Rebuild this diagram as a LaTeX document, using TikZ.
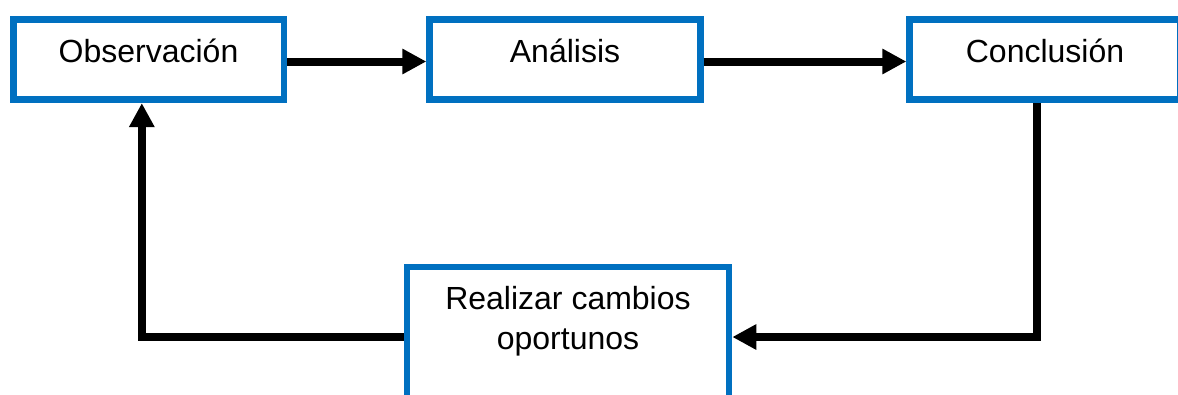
\documentclass[tikz,border=0pt]{standalone}
\usepackage{fontspec}
\setmainfont{Liberation Sans}
\usepackage{xcolor}
\usetikzlibrary{arrows.meta}
\definecolor{boxblue}{RGB}{0,112,192}

\begin{document}
\begin{tikzpicture}[x=0.75pt, y=-0.75pt,
    box/.style={draw=boxblue, line width=5pt, rectangle, inner sep=0pt,
        minimum width=203pt, minimum height=60.4pt,
        font=\fontsize{24}{30}\selectfont, text height=18pt, text depth=13.5pt},
    flow/.style={line width=6pt, -{Triangle[length=18pt, width=18pt]}}]
            \clip (0,0) rectangle (1178,394);

            \node[box] (obs) at (148.5, 59.5) {Observación};
            \node[box] (ana) at (565, 59.5) {Análisis};
            \node[box] (con) at (1045, 59.5) {Conclusión};
            \node[box, align=center, minimum width=241.5pt, minimum height=105pt,
                text height={}, text depth=28pt] (rea) at (568, 337) {Realizar cambios\\oportunos};

            \draw[flow] ([yshift=-1.5]obs.east) -- ([yshift=-1.5]ana.west);
            \draw[flow] ([yshift=-1.5]ana.east) -- ([yshift=-1.5]con.west);

            \draw[flow] ([xshift=-6]con.south) |- (rea.east);
            \draw[flow] (rea.west) -| ([xshift=-5]obs.south);
        \end{tikzpicture}
\end{document}
